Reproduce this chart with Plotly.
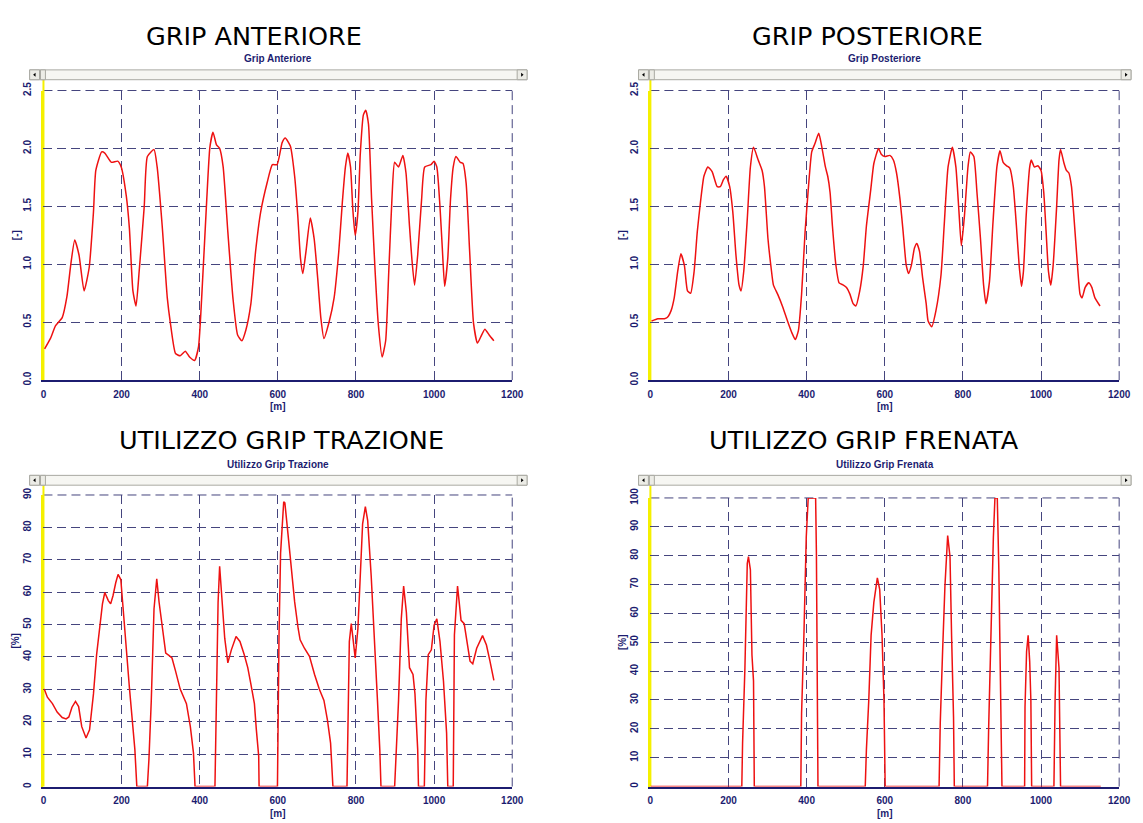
import plotly.graph_objects as go

W, H = 1143, 823

# ---------------- data ----------------
x_ant = [3, 18, 31, 48, 60, 70, 80, 91, 104, 117, 128, 134, 149, 157, 174, 190, 199, 212, 220, 229,
         237, 245, 258, 266, 283, 291, 304, 317, 325, 338, 350, 363, 374, 387, 397, 405, 418, 426, 434, 443,
         451, 460, 472, 485, 497, 508, 518, 531, 543, 556, 573, 586, 598, 611, 619, 632, 643, 651, 658, 664,
         672, 683, 693, 702, 710, 718, 731, 744, 756, 765, 773, 779, 786, 792, 798, 805, 811, 819, 825, 832,
         840, 849, 857, 867, 876, 884, 892, 899, 909, 920, 928, 937, 943, 950, 958, 968, 976, 992, 1000, 1007,
         1015, 1021, 1027, 1035, 1042, 1049, 1056, 1067, 1074, 1082, 1091, 1101, 1111, 1119, 1130, 1141, 1153]
y_ant = [0.27, 0.36, 0.47, 0.54, 0.72, 1.00, 1.21, 1.08, 0.77, 0.97, 1.45, 1.81, 1.97, 1.96, 1.88, 1.89, 1.84, 1.59, 1.31, 0.77,
         0.64, 0.94, 1.50, 1.93, 1.99, 1.84, 1.33, 0.71, 0.49, 0.23, 0.21, 0.25, 0.20, 0.17, 0.29, 0.71, 1.56, 2.01, 2.14, 2.03,
         2.00, 1.84, 1.28, 0.71, 0.39, 0.34, 0.43, 0.66, 1.11, 1.45, 1.71, 1.86, 1.86, 2.05, 2.09, 2.02, 1.76, 1.42, 1.05, 0.92,
         1.11, 1.40, 1.22, 0.88, 0.54, 0.36, 0.50, 0.71, 1.11, 1.53, 1.84, 1.96, 1.84, 1.47, 1.25, 1.45, 1.95, 2.29, 2.33, 2.21,
         1.56, 0.94, 0.49, 0.20, 0.34, 0.94, 1.56, 1.88, 1.84, 1.94, 1.79, 1.33, 1.05, 0.82, 1.08, 1.56, 1.84, 1.86, 1.89, 1.84,
         1.50, 1.14, 0.81, 1.05, 1.56, 1.84, 1.93, 1.88, 1.87, 1.70, 1.11, 0.49, 0.32, 0.37, 0.44, 0.39, 0.34]

x_post = [3, 19, 36, 43, 53, 61, 70, 78, 87, 95, 103, 112, 120, 129, 137, 147, 158, 171, 179, 187,
          194, 203, 211, 219, 227, 232, 239, 248, 256, 264, 276, 286, 292, 301, 309, 315, 326, 339, 351, 362,
          371, 379, 387, 396, 404, 413, 421, 431, 439, 448, 454, 460, 466, 475, 483, 494, 502, 511, 519, 526,
          536, 545, 553, 564, 572, 584, 591, 600, 613, 622, 630, 639, 647, 655, 661, 668, 676, 682, 689, 697,
          706, 711, 720, 731, 744, 752, 762, 773, 782, 790, 796, 804, 813, 819, 828, 836, 845, 853, 859, 868,
          877, 887, 895, 903, 912, 920, 929, 937, 944, 950, 955, 962, 971, 975, 983, 992, 1000, 1007, 1013, 1019,
          1025, 1031, 1040, 1046, 1050, 1059, 1065, 1071, 1078, 1084, 1092, 1100, 1105, 1113, 1122, 1130, 1138, 1151]
y_post = [0.51, 0.53, 0.53, 0.54, 0.60, 0.71, 0.94, 1.09, 0.99, 0.77, 0.75, 0.94, 1.28, 1.56, 1.76, 1.84, 1.80, 1.67, 1.67, 1.73,
          1.76, 1.67, 1.45, 1.08, 0.82, 0.77, 0.94, 1.39, 1.84, 2.01, 1.90, 1.81, 1.67, 1.22, 0.97, 0.82, 0.74, 0.63, 0.51, 0.41,
          0.35, 0.43, 0.74, 1.28, 1.64, 1.97, 2.04, 2.13, 2.01, 1.84, 1.76, 1.62, 1.33, 0.99, 0.84, 0.82, 0.80, 0.74, 0.66, 0.64,
          0.77, 0.99, 1.33, 1.64, 1.87, 2.00, 1.95, 1.93, 1.94, 1.90, 1.79, 1.56, 1.28, 0.99, 0.92, 0.99, 1.14, 1.18, 1.11, 0.88,
          0.66, 0.51, 0.46, 0.60, 0.91, 1.33, 1.84, 2.01, 1.84, 1.45, 1.16, 1.42, 1.84, 1.97, 1.93, 1.62, 1.22, 0.82, 0.66, 0.85,
          1.36, 1.84, 1.98, 1.88, 1.85, 1.83, 1.67, 1.33, 0.99, 0.81, 0.94, 1.42, 1.84, 1.90, 1.84, 1.85, 1.81, 1.62, 1.28, 0.94,
          0.82, 0.99, 1.50, 1.90, 1.99, 1.87, 1.81, 1.79, 1.67, 1.42, 1.05, 0.74, 0.71, 0.80, 0.84, 0.80, 0.71, 0.64]

x_traz = [2, 10, 23, 35, 48, 58, 65, 73, 82, 90, 98, 109, 118, 128, 136, 145, 151, 157, 166, 172,
          178, 185, 191, 198, 201, 206, 212, 220, 229, 234, 239, 266, 270, 276, 283, 290, 296, 304, 313, 321,
          329, 338, 350, 366, 376, 384, 388, 439, 443, 447, 451, 458, 464, 472, 481, 493, 503, 514, 523, 531,
          540, 545, 551, 552, 599, 603, 607, 615, 618, 626, 635, 643, 652, 657, 668, 681, 694, 706, 718, 727,
          735, 741, 777, 780, 783, 788, 794, 798, 805, 811, 817, 824, 830, 839, 847, 855, 861, 864, 899, 903,
          909, 916, 922, 929, 937, 946, 951, 958, 960, 975, 979, 985, 993, 1000, 1007, 1015, 1024, 1032, 1035, 1049,
          1052, 1060, 1069, 1077, 1086, 1092, 1099, 1109, 1124, 1134, 1143, 1153]
y_traz = [30.1, 27.6, 25.6, 23.0, 21.3, 20.9, 21.5, 24.5, 26.3, 24.7, 18.5, 15.0, 17.5, 28.6, 40.7, 49.8, 56.4, 59.9, 57.4, 56.4,
          58.9, 62.9, 65.5, 63.9, 58.9, 51.8, 42.7, 30.6, 18.5, 11.4, 0.0, 0.0, 8.4, 26.6, 54.8, 64.1, 56.9, 48.8, 41.2, 40.5,
          39.7, 35.7, 30.1, 25.6, 18.5, 10.4, 0.0, 0.0, 26.6, 56.9, 68.0, 56.9, 45.8, 38.2, 42.2, 46.3, 44.8, 40.7, 36.7, 31.6,
          25.6, 17.5, 9.4, 0.0, 0.0, 46.8, 72.0, 87.9, 87.6, 77.9, 67.0, 57.0, 48.8, 45.3, 42.7, 40.2, 34.6, 30.1, 26.6, 20.5,
          13.4, 0.0, 0.0, 26.6, 44.8, 50.3, 44.8, 39.7, 48.8, 67.0, 81.1, 86.4, 82.1, 64.9, 47.8, 26.6, 11.4, 0.0, 0.0, 10.4,
          26.6, 51.8, 61.9, 53.8, 36.7, 34.6, 28.6, 11.4, 0.0, 0.0, 26.6, 40.7, 42.2, 49.8, 51.8, 44.8, 32.6, 16.5, 0.0, 0.0,
          46.8, 61.9, 51.3, 50.3, 43.7, 38.7, 37.9, 42.7, 46.6, 43.7, 38.7, 32.8]

x_fren = [0, 234, 236, 242, 248, 251, 256, 260, 264, 266, 385, 387, 393, 399, 404, 423, 425, 429, 550, 553,
          559, 565, 572, 581, 587, 593, 598, 599, 601, 739, 742, 748, 754, 761, 767, 771, 776, 778, 863, 866,
          871, 878, 882, 888, 892, 896, 900, 958, 959, 963, 967, 971, 974, 976, 1033, 1036, 1040, 1046, 1050, 1153]
y_fren = [0.0, 0.0, 15.1, 41.1, 77.3, 79.7, 75.1, 45.6, 36.6, 0.0, 0.0, 25.3, 52.4, 86.4, 100.0, 100.0, 80.7, 0.0, 0.0, 12.8,
          29.8, 52.4, 63.8, 72.3, 68.3, 52.4, 29.8, 19.6, 0.0, 0.0, 21.9, 46.8, 69.4, 87.0, 79.6, 52.4, 24.1, 0.0, 0.0, 20.7,
          52.4, 86.4, 100.0, 100.0, 75.1, 41.1, 0.0, 0.0, 27.5, 46.8, 52.4, 43.3, 29.8, 0.0, 0.0, 29.8, 52.4, 41.1, 0.0, 0.0]

big_titles = ["GRIP ANTERIORE", "GRIP POSTERIORE", "UTILIZZO GRIP TRAZIONE", "UTILIZZO GRIP FRENATA"]
small_titles = ["Grip Anteriore", "Grip Posteriore", "Utilizzo Grip Trazione", "Utilizzo Grip Frenata"]
y_units = ["[-]", "[-]", "[%]", "[%]"]
x_unit = "[m]"
y_ranges = [(0, 2.5), (0, 2.5), (0, 90), (0, 100)]
y_dticks = [0.5, 0.5, 10, 10]
y_formats = [".1f", ".1f", "d", "d"]

# ---------------- geometry (page pixels) ----------------
panels = [
    dict(l=41, r=516, t=82, b=377, bl=27, br=531, tx=254, ty=26, sty=49, bt=61, bb=71, ux=13),
    dict(l=656, r=1131, t=82, b=377, bl=644, br=1143, tx=876, ty=26, sty=49, bt=61, bb=71, ux=628),
    dict(l=41, r=516, t=494, b=791, bl=27, br=531, tx=282, ty=438, sty=463, bt=474, bb=484, ux=13),
    dict(l=656, r=1131, t=497, b=791, bl=644, br=1143, tx=872, ty=438, sty=463, bt=474, bb=484, ux=628),
]


def px(x):
    return x / W


def py(y):
    return 1 - y / H


NAVY = "#1c1c70"
GRID = "#45457e"
RED = "#ee1111"
YELLOW = "#f5f000"
DASH = "9px,5px"

fig = go.Figure()
series = [(x_ant, y_ant), (x_post, y_post), (x_traz, y_traz), (x_fren, y_fren)]
shapes = []
annotations = []
tick_font = dict(family="Liberation Sans, Arial", size=10, color=NAVY, weight="bold")

for i, (p, (xs, ys)) in enumerate(zip(panels, series)):
    k = "" if i == 0 else str(i + 1)
    fig.add_trace(go.Scatter(x=xs, y=ys, mode="lines", xaxis="x" + k, yaxis="y" + k,
                             line=dict(color=RED, width=1.5, shape="spline" if i < 2 else "linear",
                                       smoothing=0.5),
                             showlegend=False, hoverinfo="skip"))
    fig.layout["xaxis" + k] = dict(
        domain=[px(p["l"]), px(p["r"])], anchor="y" + k, range=[0, 1200], dtick=200, tick0=0,
        showgrid=True, gridcolor=GRID, gridwidth=1, griddash=DASH,
        showline=True, linecolor=NAVY, linewidth=1.5, zeroline=False, ticks="",
        tickfont=tick_font, ticklabelstandoff=4, layer="below traces", fixedrange=True)
    fig.layout["yaxis" + k] = dict(
        domain=[py(p["b"]), py(p["t"])], anchor="x" + k, range=list(y_ranges[i]), dtick=y_dticks[i], tick0=0,
        tickformat=y_formats[i], tickangle=-90,
        showgrid=True, gridcolor=GRID, gridwidth=1, griddash=DASH,
        showline=True, linecolor=YELLOW, linewidth=2, zeroline=False, ticks="",
        tickfont=tick_font, ticklabelstandoff=6, layer="below traces", fixedrange=True)

    # boundary dashed lines (top and right) like the grid
    shapes.append(dict(type="line", xref="paper", yref="paper", x0=px(p["l"]), x1=px(p["r"]),
                       y0=py(p["t"]), y1=py(p["t"]), line=dict(color=GRID, width=1, dash=DASH), layer="below"))
    shapes.append(dict(type="line", xref="paper", yref="paper", x0=px(p["r"]), x1=px(p["r"]),
                       y0=py(p["b"]), y1=py(p["t"]), line=dict(color=GRID, width=1, dash=DASH), layer="below"))
    # yellow cursor line extending up to scrollbar
    shapes.append(dict(type="line", xref="paper", yref="paper", x0=px(p["l"]), x1=px(p["l"]),
                       y0=py(p["b"]), y1=py(p["bb"]), line=dict(color=YELLOW, width=2), layer="below"))
    # scrollbar
    shapes.append(dict(type="rect", xref="paper", yref="paper", x0=px(p["bl"]), x1=px(p["br"]),
                       y0=py(p["bb"]), y1=py(p["bt"]), fillcolor="#f6f6f2",
                       line=dict(color="#a9a9a2", width=1), layer="below"))
    for bx0, bx1 in [(p["bl"], p["bl"] + 10), (p["br"] - 10, p["br"])]:
        shapes.append(dict(type="rect", xref="paper", yref="paper", x0=px(bx0), x1=px(bx1),
                           y0=py(p["bb"]), y1=py(p["bt"]), fillcolor="#ecece6",
                           line=dict(color="#a9a9a2", width=1), layer="below"))
    shapes.append(dict(type="rect", xref="paper", yref="paper", x0=px(p["bl"] + 11), x1=px(p["bl"] + 16),
                       y0=py(p["bb"]), y1=py(p["bt"]), fillcolor="#ecece6",
                       line=dict(color="#a9a9a2", width=1), layer="below"))
    cy = (p["bt"] + p["bb"]) / 2
    lx = p["bl"] + 5
    rx = p["br"] - 5
    shapes.append(dict(type="path", xref="paper", yref="paper",
                       path=f"M {px(lx-1.5)},{py(cy)} L {px(lx+1)},{py(cy-2)} L {px(lx+1)},{py(cy+2)} Z",
                       fillcolor="#000000", line=dict(width=0), layer="below"))
    shapes.append(dict(type="path", xref="paper", yref="paper",
                       path=f"M {px(rx+1.5)},{py(cy)} L {px(rx-1)},{py(cy-2)} L {px(rx-1)},{py(cy+2)} Z",
                       fillcolor="#000000", line=dict(width=0), layer="below"))

    # titles
    annotations.append(dict(text=big_titles[i], xref="paper", yref="paper", x=px(p["tx"]), y=py(p["ty"]),
                            xanchor="center", yanchor="middle", showarrow=False,
                            font=dict(family="DejaVu Sans, Verdana", size=25.5, color="#000000")))
    annotations.append(dict(text=small_titles[i], xref="paper", yref="paper", x=px((p["l"] + p["r"]) / 2),
                            y=py(p["sty"]), xanchor="center", yanchor="middle", showarrow=False,
                            font=tick_font))
    annotations.append(dict(text=y_units[i], xref="paper", yref="paper", x=px(p["ux"]),
                            y=py((p["t"] + p["b"]) / 2), textangle=-90,
                            xanchor="center", yanchor="middle", showarrow=False, font=tick_font))
    annotations.append(dict(text=x_unit, xref="paper", yref="paper", x=px((p["l"] + p["r"]) / 2),
                            y=py(p["b"] + 27), xanchor="center", yanchor="middle", showarrow=False,
                            font=tick_font))

fig.update_layout(width=W, height=H, margin=dict(l=0, r=0, t=0, b=0), paper_bgcolor="white",
                  plot_bgcolor="white", shapes=shapes, annotations=annotations, showlegend=False)

fig.write_html("out.html")
